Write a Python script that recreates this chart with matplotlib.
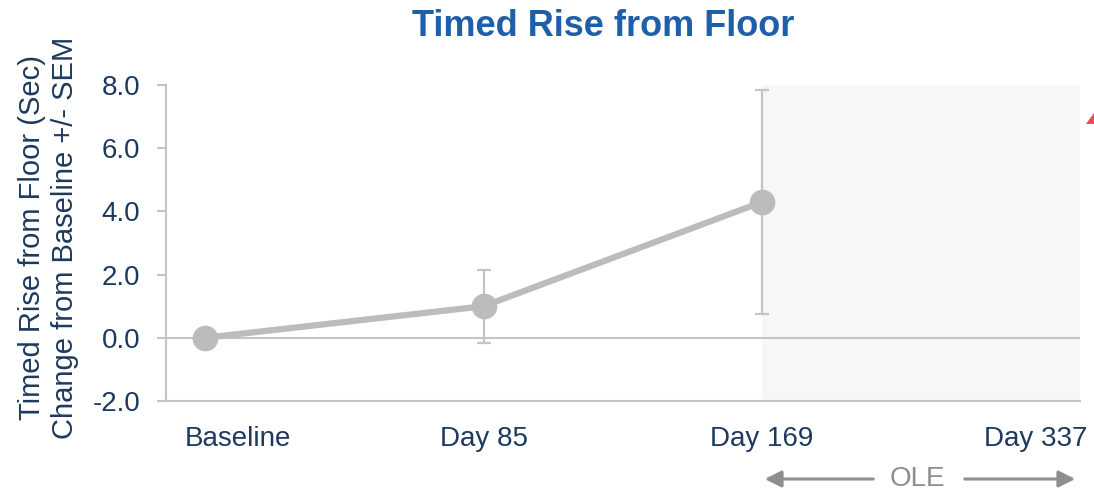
import matplotlib
matplotlib.use("Agg")
import matplotlib.pyplot as plt
from matplotlib.patches import Polygon, FancyArrowPatch
from matplotlib.transforms import ScaledTranslation

plt.rcParams['font.family'] = ['Liberation Sans', 'DejaVu Sans']

# Data
visits = ["Baseline", "Day 85", "Day 169", "Day 337"]
change = [0.0, 1.0, 4.3]
sem = [0.0, 1.15, 3.55]
y_ticks = [-2.0, 0.0, 2.0, 4.0, 6.0, 8.0]

navy = "#1d3a5e"
title_blue = "#1f5ea8"
line_grey = "#bcbcbc"
axis_grey = "#c4c4c4"

fig = plt.figure(figsize=(10.94, 4.90), dpi=100)
ax = fig.add_axes([0.1517, 0.1816, 0.8353, 0.6449])

x = list(range(len(visits)))
ax.set_xlim(-0.14, 3.14)
ax.set_ylim(-2.0, 8.0)

# Open-label extension shading
ax.axvspan(x[2], 3.14, color="#f7f7f7", zorder=0, lw=0)

# Zero reference line
ax.axhline(0, color=axis_grey, lw=1.5, zorder=1)

ax.errorbar(x[:3], change, yerr=sem, fmt="none", ecolor=axis_grey,
            elinewidth=1.6, capsize=5, capthick=1.6, zorder=2)
ax.plot(x[:3], change, color=line_grey, lw=4.5, marker="o", ms=17.5,
        mfc=line_grey, mec=line_grey, zorder=3)

ax.set_xticks(x)
ax.set_xticklabels(visits)
ax.set_yticks(y_ticks)
ax.set_yticklabels([f"{v:.1f}" for v in y_ticks])
ax.tick_params(axis="y", length=6.5, width=1.5, color=axis_grey,
               labelsize=20, labelcolor=navy, pad=12)
ax.tick_params(axis="x", length=0, labelsize=20, labelcolor=navy, pad=18)

# Nudge the first and last category labels
xlabels = ax.get_xticklabels()
xlabels[0].set_transform(xlabels[0].get_transform()
                         + ScaledTranslation(0.33, 0, fig.dpi_scale_trans))
xlabels[-1].set_transform(xlabels[-1].get_transform()
                          + ScaledTranslation(-0.05, 0, fig.dpi_scale_trans))

for s in ["top", "right"]:
    ax.spines[s].set_visible(False)
for s in ["left", "bottom"]:
    ax.spines[s].set_color(axis_grey)
    ax.spines[s].set_linewidth(1.5)

ax.set_ylabel("Timed Rise from Floor (Sec)\nChange from Baseline +/- SEM",
              fontsize=21, color=navy, labelpad=10, linespacing=1.2)
ax.yaxis.label.set_y(0.516)

fig.text(0.551, 0.945, "Timed Rise from Floor", ha="center", va="center",
         fontsize=26, fontweight="bold", color=title_blue)

# OLE span marker below the axis
ole_grey = "#8e8e8e"
y_ole = 11 / 490
fig.text(917 / 1094, y_ole, "OLE", ha="center", va="center", fontsize=20, color=ole_grey)
fig.patches.append(FancyArrowPatch(
    (876 / 1094, y_ole), (762 / 1094, y_ole), transform=fig.transFigure,
    arrowstyle="-|>,head_length=10,head_width=5", color=ole_grey, lw=2.2))
fig.patches.append(FancyArrowPatch(
    (962 / 1094, y_ole), (1078 / 1094, y_ole), transform=fig.transFigure,
    arrowstyle="-|>,head_length=10,head_width=5", color=ole_grey, lw=2.2))

# Red corner marker at the right edge
fig.patches.append(Polygon([(1094 / 1094, 1 - 113 / 490), (1094 / 1094, 1 - 124 / 490),
                            (1086 / 1094, 1 - 124 / 490)], closed=True,
                           transform=fig.transFigure, color="#e0505a", lw=0))

fig.savefig("out.png", dpi=100)
